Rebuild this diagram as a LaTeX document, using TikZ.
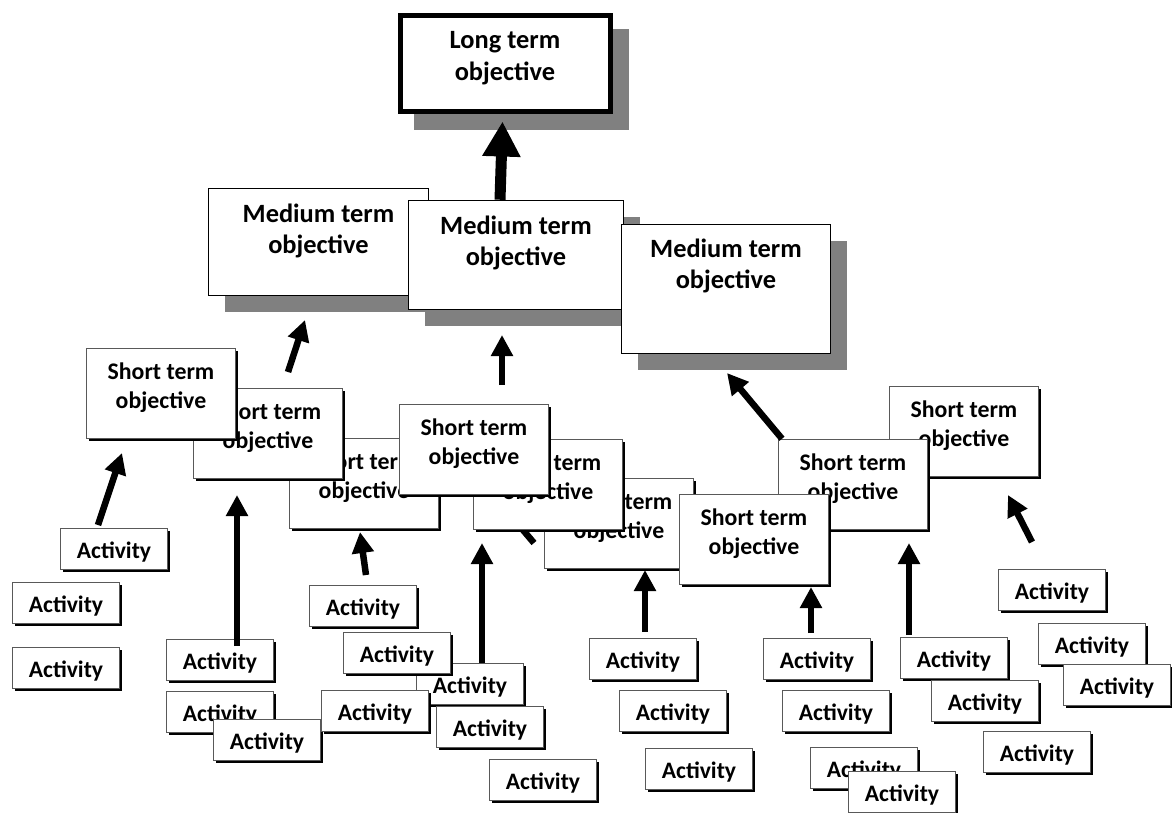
\documentclass[tikz,border=0pt]{standalone}
\usepackage{fontspec}
\setmainfont{Carlito}
\usetikzlibrary{shadows,arrows.meta,calc}
\begin{document}
\begin{tikzpicture}[x=1pt,y=-1pt,
  ltbox/.style={draw, line width=5pt, fill=white, inner sep=0pt, minimum width=210pt, minimum height=96pt,
    general shadow={fill=black!50, draw=black!50, line width=5pt, shadow xshift=16pt, shadow yshift=-16pt}},
  mdbox/.style={draw, line width=1.5pt, fill=white, inner sep=0pt,
    general shadow={fill=black!50, shadow xshift=16pt, shadow yshift=-16pt}},
  stbox/.style={draw=black!65, line width=1.5pt, fill=white, inner sep=0pt, minimum width=149pt, minimum height=90pt,
    general shadow={fill=black, shadow xshift=2.5pt, shadow yshift=-2.5pt}},
  acbox/.style={draw=black!65, line width=1.5pt, fill=white, inner sep=0pt, minimum width=107pt, minimum height=41pt,
    text height=19pt, text depth=0pt, font=\fontsize{23.6}{28}\selectfont\bfseries,
    general shadow={fill=black, shadow xshift=2.5pt, shadow yshift=-2.5pt}},
  bigtxt/.style={font=\fontsize{26.4}{31.5}\selectfont\bfseries, align=center, inner sep=0pt},
  sttxt/.style={font=\fontsize{23.8}{29.5}\selectfont\bfseries, align=center, inner sep=0pt},
  arr/.style={line width=6.5pt, -{Triangle[width=21pt,length=21pt]}},
  bigarr/.style={line width=11pt, -{Triangle[width=36pt,length=35pt]}},
  stub/.style={line width=6.5pt}
]
\useasboundingbox[fill=white] (0,0) rectangle (1172,812);

% long term objective
\node[ltbox, anchor=north west] (lt) at (397.5,12.5) {};
\node[bigtxt] (ltt) at ($(lt.north)+(0,45.5)$) {Long term\\objective};

% medium term objectives
\node[mdbox, anchor=north west, minimum width=220pt, minimum height=107pt] (m1) at (207.75,187.75) {};
\node[bigtxt] (m1t) at ($(m1.north)+(0,43)$) {Medium term\\objective};
\node[mdbox, anchor=north west, minimum width=215pt, minimum height=109pt] (m2) at (407.75,199.75) {};
\node[bigtxt] (m2t) at ($(m2.north)+(0,43)$) {Medium term\\objective};
\node[mdbox, anchor=north west, minimum width=209pt, minimum height=129pt] (m3) at (620.75,223.75) {};
\node[bigtxt] (m3t) at ($(m3.north)+(0,42)$) {Medium term\\objective};

% hidden stub behind short term boxes
\coordinate (stubA) at (512,517);
\coordinate (stubB) at (534,543);
\draw[stub] (stubA) -- (stubB);

% short term objectives (back to front)
\node[stbox, anchor=north west] (s3) at (288.75,437.75) {};
\node[sttxt] (s3t) at ($(s3.north)+(0,40)$) {Short term\\objective};
\node[stbox, anchor=north west] (s2) at (192.75,387.75) {};
\node[sttxt] (s2t) at ($(s2.north)+(0,40)$) {Short term\\objective};
\node[stbox, anchor=north west] (s1) at (85.75,347.75) {};
\node[sttxt] (s1t) at ($(s1.north)+(0,40)$) {Short term\\objective};
\node[stbox, anchor=north west] (s6) at (543.75,477.75) {};
\node[sttxt] (s6t) at ($(s6.north)+(0,40)$) {Short term\\objective};
\node[stbox, anchor=north west] (s5) at (472.75,438.75) {};
\node[sttxt] (s5t) at ($(s5.north)+(0,40)$) {Short term\\objective};
\node[stbox, anchor=north west] (s4) at (398.75,403.75) {};
\node[sttxt] (s4t) at ($(s4.north)+(0,40)$) {Short term\\objective};
\node[stbox, anchor=north west] (s9) at (888.75,385.75) {};
\node[sttxt] (s9t) at ($(s9.north)+(0,40)$) {Short term\\objective};
\node[stbox, anchor=north west] (s8) at (777.75,438.75) {};
\node[sttxt] (s8t) at ($(s8.north)+(0,40)$) {Short term\\objective};
\node[stbox, anchor=north west] (s7) at (678.75,493.75) {};
\node[sttxt] (s7t) at ($(s7.north)+(0,40)$) {Short term\\objective};

% activities
\node[acbox, anchor=north west] (a1) at (59.75,527.75) {Activity};
\node[acbox, anchor=north west] (a2) at (11.75,581.75) {Activity};
\node[acbox, anchor=north west] (a3) at (11.75,646.75) {Activity};
\node[acbox, anchor=north west] (a4) at (165.75,638.75) {Activity};
\node[acbox, anchor=north west] (a5) at (165.75,690.75) {Activity};
\node[acbox, anchor=north west] (a6) at (212.75,718.75) {Activity};
\node[acbox, anchor=north west] (a10) at (415.75,662.75) {Activity};
\node[acbox, anchor=north west] (a7) at (308.75,584.75) {Activity};
\node[acbox, anchor=north west] (a8) at (342.75,631.75) {Activity};
\node[acbox, anchor=north west] (a9) at (320.75,689.75) {Activity};
\node[acbox, anchor=north west] (a11) at (435.75,705.75) {Activity};
\node[acbox, anchor=north west] (a12) at (488.75,758.75) {Activity};
\node[acbox, anchor=north west] (a13) at (588.75,637.75) {Activity};
\node[acbox, anchor=north west] (a14) at (618.75,689.75) {Activity};
\node[acbox, anchor=north west] (a15) at (644.75,747.75) {Activity};
\node[acbox, anchor=north west] (a16) at (762.75,637.75) {Activity};
\node[acbox, anchor=north west] (a17) at (781.75,689.75) {Activity};
\node[acbox, anchor=north west] (a18) at (809.75,746.75) {Activity};
\node[acbox, anchor=north west] (a19) at (847.75,770.75) {Activity};
\node[acbox, anchor=north west] (a20) at (899.75,636.75) {Activity};
\node[acbox, anchor=north west] (a21) at (930.75,679.75) {Activity};
\node[acbox, anchor=north west] (a22) at (982.75,730.75) {Activity};
\node[acbox, anchor=north west] (a23) at (997.75,568.75) {Activity};
\node[acbox, anchor=north west] (a24) at (1037.75,622.75) {Activity};
\node[acbox, anchor=north west] (a25) at (1062.75,663.75) {Activity};

% arrows
\draw[bigarr] (m2.north -| lt.south) ++(-5,0) coordinate (bt) -- ($(lt.south)+(-2.5,8)$) coordinate (bh);
\coordinate (m1h) at (305,320);
\draw[arr] ($(s2.north west)+(95.25,-15.75)$) coordinate (m1tail) -- (m1h);
\coordinate (m2h) at (502,335);
\draw[arr] ($(s4.north west)+(103.25,-18.75)$) coordinate (m2tail) -- (m2h);
\coordinate (m3h) at (727,373);
\draw[arr] ($(s8.north west)+(4.25,0)$) coordinate (m3tail) -- (m3h);
\coordinate (s1h) at (122,453);
\draw[arr] ($(a1.north west)+(38.25,-2.75)$) coordinate (s1tail) -- (s1h);
\coordinate (s2h) at (237,495);
\draw[arr] ($(a4.north west)+(71.25,7.25)$) coordinate (s2tail) -- (s2h);
\coordinate (s3h) at (360,532);
\draw[arr] ($(a7.north west)+(57.25,-9.75)$) coordinate (s3tail) -- (s3h);
\coordinate (s5h) at (482,543);
\draw[arr] ($(a10.north west)+(66.25,0)$) coordinate (s5tail) -- (s5h);
\coordinate (s6h) at (645,570);
\draw[arr] ($(a13.north west)+(56.25,-5.75)$) coordinate (s6tail) -- (s6h);
\coordinate (s7h) at (811,587);
\draw[arr] ($(a16.north west)+(48.25,-4.75)$) coordinate (s7tail) -- (s7h);
\coordinate (s8h) at (909,543);
\draw[arr] ($(a20.north west)+(9.25,-1.75)$) coordinate (s8tail) -- (s8h);
\coordinate (s9h) at (1008,495);
\coordinate (s9tail) at (1032,542);
\draw[arr] (s9tail) -- (s9h);
\end{tikzpicture}
\end{document}
